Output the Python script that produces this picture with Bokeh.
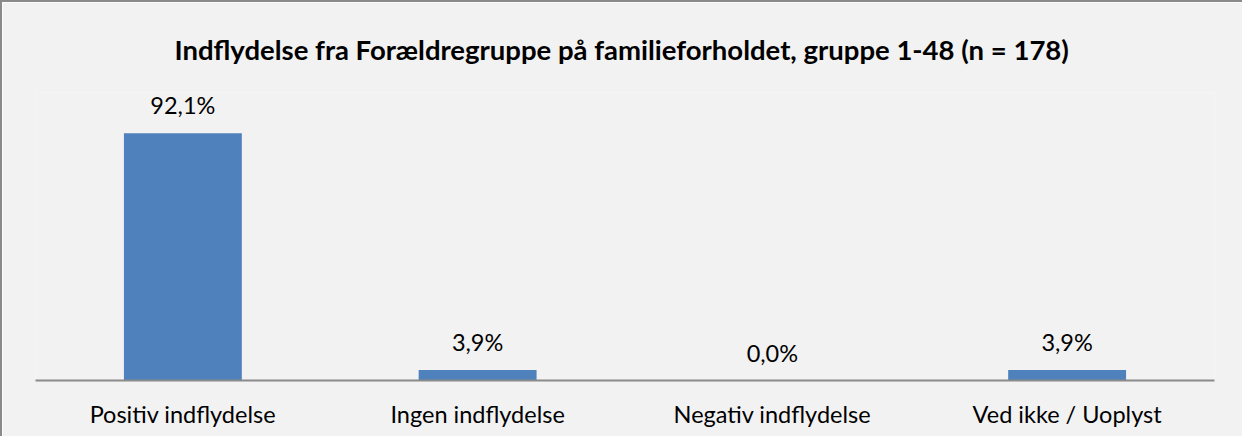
from bokeh.plotting import figure
from bokeh.models import ColumnDataSource, Range1d, Title
from bokeh.embed import file_html
from bokeh.resources import INLINE
from bokeh.core.properties import value

categories = ["Positiv indflydelse", "Ingen indflydelse", "Negativ indflydelse", "Ved ikke / Uoplyst"]
values = [92.1, 3.9, 0.0, 3.9]
labels = ["92,1%", "3,9%", "0,0%", "3,9%"]
title_text = "Indflydelse fra Forældregruppe på  familieforholdet, gruppe 1-48 (n = 178)"

src = ColumnDataSource(dict(cat=categories, val=values, lab=labels))

p = figure(x_range=categories, y_range=Range1d(0, 107.3), width=1242, height=436,
           output_backend="svg", toolbar_location=None,
           min_border_left=33, min_border_right=30, min_border_bottom=58, min_border_top=90)
p.title = None
p.add_layout(Title(text=title_text, align="center", text_font="Lato",
                   text_font_style="bold", text_font_size="27.5px", text_color="#000000",
                   standoff=54, offset=0), "above")

p.background_fill_color = "#F2F2F2"
p.border_fill_color = "#F2F2F2"
p.outline_line_color = None
p.styles = {"border-left": "2px solid #8a8a8a", "border-top": "2px solid #8a8a8a"}

p.vbar(x="cat", top="val", width=0.4, source=src, fill_color="#4F81BD", line_color=None)
p.text(x="cat", y="val", text="lab", source=src, text_align="center", text_baseline="bottom",
       y_offset=-14, text_font=value("Lato"), text_font_size="23.5px", text_color="#000000")

p.xgrid.visible = False
p.ygrid.visible = False
p.yaxis.visible = False
p.xaxis.axis_line_color = "#8a8a8a"
p.xaxis.axis_line_width = 2
p.xaxis.major_tick_line_color = None
p.xaxis.minor_tick_line_color = None
p.xaxis.major_label_text_font = "Lato"
p.xaxis.major_label_text_font_size = "23.5px"
p.xaxis.major_label_text_color = "#000000"
p.xaxis.major_label_standoff = 13
p.x_range.range_padding = 0

open("out.html", "w").write(file_html(p, INLINE))
